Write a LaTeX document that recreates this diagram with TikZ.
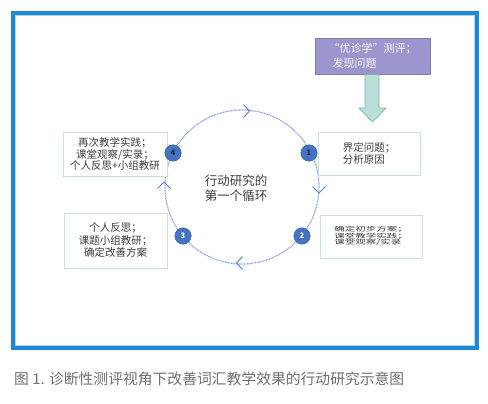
\documentclass[tikz,border=0pt]{standalone}
\usepackage{fontspec}
\usepackage{graphicx}
\setmainfont{Noto Sans CJK SC}
\definecolor{framec}{RGB}{30,136,208}
\definecolor{boxc}{RGB}{200,224,226}
\definecolor{txtc}{RGB}{60,60,60}
\definecolor{ringc}{RGB}{135,158,218}
\definecolor{chevc}{RGB}{100,130,205}
\definecolor{numc}{RGB}{68,114,196}
\definecolor{purpc}{RGB}{155,150,206}
\definecolor{purpd}{RGB}{125,125,170}
\definecolor{arrf}{RGB}{184,223,218}
\definecolor{arrd}{RGB}{130,178,172}
\definecolor{capc}{RGB}{110,110,110}
\begin{document}
\begin{tikzpicture}[x=1pt,y=-1pt,
  tbox/.style={draw=boxc, line width=0.8pt, fill=white, text=txtc, inner sep=0pt,
    font=\fontsize{10.5}{11.5}\selectfont},
  num/.style={circle, fill=numc, draw=numc!80!black, line width=0.4pt, minimum size=16.5pt,
    inner sep=0pt, font=\fontsize{7.5}{7.5}\selectfont\bfseries},
  chev/.style={draw=chevc, line width=1pt, line join=miter},
  ring/.style={circle, draw=ringc, line width=1.2pt, dash pattern=on 0.9pt off 0.7pt, inner sep=0pt}
]
\useasboundingbox (0,0) rectangle (488,404);
% frame
\draw[framec, line width=4pt] (13,13) rectangle (477,348);
\draw[framec!35, line width=0.6pt] (15.3,15.3) rectangle (474.7,345.7);

% ring
\node[ring, minimum size=154pt] (ring) at (242,187) {};
% chevrons
\draw[chev] (243.5,104.5) -- (249.5,111) -- (243.5,117.5);
\draw[chev] (312.5,186.5) -- (319,193) -- (325.5,186.5);
\draw[chev] (242.5,256.5) -- (236.5,263) -- (242.5,269.5);
\draw[chev] (157.5,188.5) -- (164,182) -- (170.5,188.5);

% centre text
\node[text=txtc, align=left, font=\fontsize{12.5}{15}\selectfont] (ctr) at (236,188) {行动研究的\\第一个循环};

% boxes
\node[tbox, minimum width=102pt, minimum height=43pt, align=left] (b1) at (369,153.5) {界定问题；\\分析原因};
\node[tbox, minimum width=102pt, minimum height=43pt] (b2) at (371,236.5)
  {\scalebox{1}[0.6]{\begin{tabular}{@{}l@{}}确定初步方案；\\[-1pt]课堂教学实践；\\[-1pt]课堂观察/实录\end{tabular}}};
\node[tbox, minimum width=103pt, minimum height=55pt, align=center,
  font=\fontsize{10.5}{12.5}\selectfont] (b3) at (115.5,240.5) {个人反思；\\课题小组教研；\\确定改善方案};
\node[tbox, minimum width=104pt, minimum height=44pt, align=center] (b4) at (115,154) {再次教学实践；\\课堂观察/实录；\\个人反思+小组教研};

% numbers
\node[num, text=black!85] (n1) at (309,153) {1};
\node[num, text=white] (n2) at (302,236) {2};
\node[num, text=white] (n3) at (183,236) {3};
\node[num, text=black!85] (n4) at (173,153) {4};

% purple box
\node[draw=purpd, fill=purpc, line width=0.6pt, minimum width=115pt, minimum height=36pt,
  inner sep=0pt, text=white!94!purpc, align=left, font=\fontsize{11}{15}\selectfont] (pb) at (372.5,56)
  {“优诊学”测评；\\\hspace{4pt}发现问题};

% block arrow
\draw[draw=arrd, fill=arrf, line width=0.7pt]
  (365,74.5) -- (379,74.5) -- (379,108) -- (386,108) -- (372.5,122) -- (359,108) -- (365,108) -- cycle;

% caption
\node[anchor=west, text=capc, inner sep=0pt, font=\fontsize{14.8}{15}\selectfont] (cap) at (14,378.5)
  {图 1. 诊断性测评视角下改善词汇教学效果的行动研究示意图};
\end{tikzpicture}
\end{document}
